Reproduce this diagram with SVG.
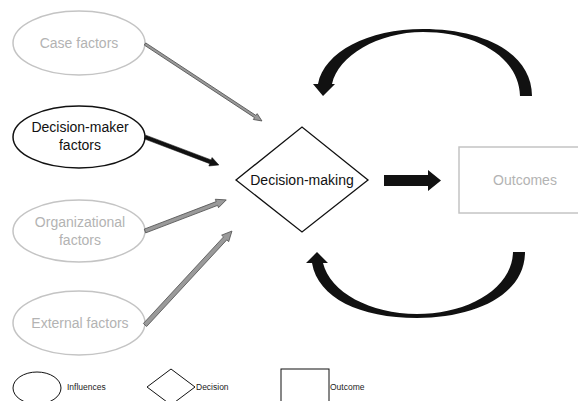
<svg xmlns="http://www.w3.org/2000/svg" width="578" height="401" viewBox="0 0 578 401">
<style>
text{font-family:"Liberation Sans",Arial,sans-serif;font-size:14px;text-anchor:middle}
.g{fill:#b3b3b3}
.k{fill:#111}
.ge{fill:#fff;stroke:#c4c4c4;stroke-width:1.5}
.ke{fill:#fff;stroke:#111;stroke-width:1.5}
.leg{font-size:8.5px;text-anchor:start;fill:#222}
.ga{fill:#9a9a9a;stroke:#555;stroke-width:0.8;stroke-linejoin:miter}
.ka{fill:#111;stroke:#111;stroke-width:0.5}
</style>
<rect width="578" height="401" fill="#fff"/>
<g id="case-factors">
<ellipse class="ge" cx="79" cy="43" rx="66" ry="32"/>
<text class="g" x="79" y="48">Case factors</text>
</g>
<g id="decision-maker-factors">
<ellipse class="ke" cx="79" cy="137" rx="66" ry="31"/>
<text class="k" x="80" y="132">Decision-maker</text>
<text class="k" x="80" y="150">factors</text>
</g>
<g id="organizational-factors">
<ellipse class="ge" cx="79" cy="231" rx="66" ry="31"/>
<text class="g" x="80" y="227">Organizational</text>
<text class="g" x="80" y="245">factors</text>
</g>
<g id="external-factors">
<ellipse class="ge" cx="79" cy="323" rx="66" ry="32"/>
<text class="g" x="80" y="328">External factors</text>
</g>
<g id="decision-making">
<polygon points="236,180 302,127 368,180 302,232" fill="#fff" stroke="#111" stroke-width="1.3"/>
<text class="k" x="302" y="185">Decision-making</text>
</g>
<g id="outcomes">
<rect x="459" y="147" width="130" height="66" fill="#fff" stroke="#c4c4c4" stroke-width="1.5"/>
<text class="g" x="525" y="185">Outcomes</text>
</g>
<g id="connectors">
<polygon class="ga" points="0,-1.3 132,-1.3 132,-3.5 140,0 132,3.5 132,1.3 0,1.3" transform="translate(145,44) rotate(33.35)"/>
<polygon class="ka" points="0,-2 70,-2 70,-4.5 79,0 70,4.5 70,2 0,2" transform="translate(145,137) rotate(20.73)"/>
<polygon class="ga" points="0,-2 77,-2 77,-4.5 87,0 77,4.5 77,2 0,2" transform="translate(145,231) rotate(-20.94)"/>
<polygon class="ga" points="0,-2.2 118,-2.2 118,-4.8 128,0 118,4.8 118,2.2 0,2.2" transform="translate(145,325) rotate(-47.21)"/>
<polygon class="k" points="384,175 428,175 428,170 441,180.5 428,191 428,186 384,186"/>
<path class="k" d="M532 96 C532 52 482 29 423 29 C368 29 324 52 318 84 L313 84 L323 96 L335 84 L332 84 C338 56 378 32 423 32 C474 32 519 56 520 96 Z"/>
<path class="k" d="M525 252 C525 295 475 318 417 318 C360 318 318 298 312 263 L306 263 L317 252 L328 263 L323 263 C330 292 370 314 417 314 C466 314 512 290 513 252 Z"/>
</g>
<g id="legend">
<ellipse cx="37" cy="388" rx="24" ry="16" fill="#fff" stroke="#111" stroke-width="1"/>
<text class="leg" x="67" y="390">Influences</text>
<polygon points="147,387 171,369 195,387 171,405" fill="#fff" stroke="#111" stroke-width="1"/>
<text class="leg" x="196" y="390">Decision</text>
<rect x="281" y="369" width="48" height="40" fill="#fff" stroke="#111" stroke-width="1"/>
<text class="leg" x="330" y="390">Outcome</text>
</g>
</svg>
